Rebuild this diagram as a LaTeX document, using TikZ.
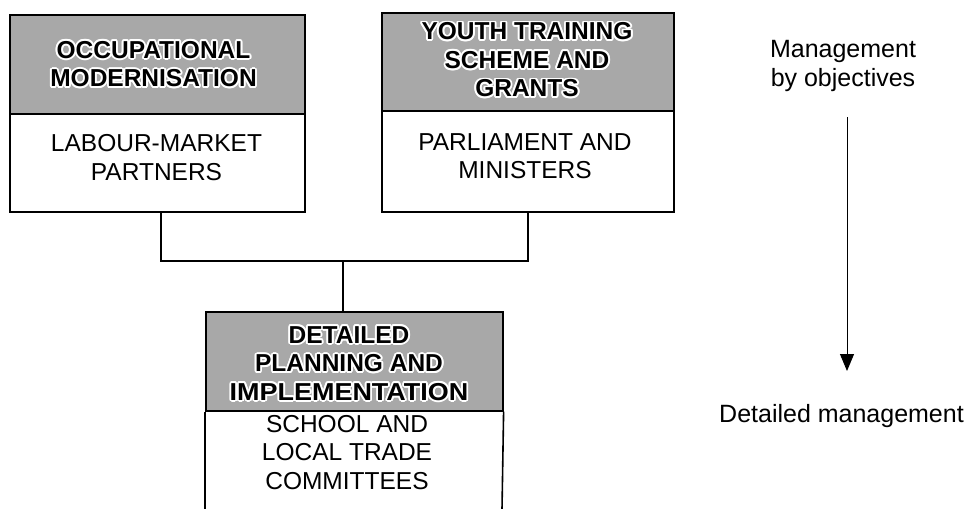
\documentclass[tikz,border=0pt]{standalone}
\usepackage{fontspec}
\setmainfont{Liberation Sans}
\usetikzlibrary{arrows.meta,calc}
\definecolor{shade}{RGB}{168,168,168}
\newcommand\halotext[3]{%
  \foreach \a in {0,30,...,330} {\node[headtxt,text=white] at ($(#2)+(\a:1.9)$) {#3};}
  \node[headtxt] (#1) at (#2) {#3};}
\begin{document}
\begin{tikzpicture}[x=1pt,y=-1pt,
  headbox/.style={draw=black, line width=1.6pt, fill=shade, rectangle, inner sep=0pt, anchor=north west},
  bodybox/.style={draw=black, line width=1.6pt, fill=white, rectangle, inner sep=0pt, anchor=north west},
  boxline/.style={draw=black, line width=1.6pt},
  headtxt/.style={align=center, inner sep=0pt, font=\fontsize{24.5}{28.5}\selectfont\bfseries},
  bodytxt/.style={align=center, inner sep=0pt, font=\fontsize{24.5}{28.5}\selectfont},
  sidetxt/.style={align=center, inner sep=0pt, font=\fontsize{25}{29}\selectfont},
  link/.style={draw=black, line width=1.4pt},
  flow/.style={draw=black, line width=1pt, -{Triangle[width=14pt,length=17pt]}},
]
\useasboundingbox (0,0) rectangle (973,508);

% Box 1
\node[bodybox, minimum width=295pt, minimum height=98pt] (b1) at (9,113) {};
\node[headbox, minimum width=295pt, minimum height=99pt] (h1) at (9,14) {};
\halotext{t1}{153.5,64}{OCCUPATIONAL\\MODERNISATION}
\node[bodytxt] (u1) at (156.5,157.5) {LABOUR-MARKET\\PARTNERS};

% Box 2
\node[bodybox, minimum width=292pt, minimum height=101pt] (b2) at (381,110) {};
\node[headbox, minimum width=292pt, minimum height=98pt] (h2) at (381,12) {};
\halotext{t2}{527,60}{YOUTH TRAINING\\SCHEME AND\\GRANTS}
\node[bodytxt] (u2) at (525,156) {PARLIAMENT AND\\MINISTERS};

% Box 3
\node[headbox, minimum width=297pt, minimum height=99pt] (h3) at (205,311) {};
\draw[boxline] (h3.south west) -- (205,509);
\draw[boxline] (h3.south east) -- (502,509);
\halotext{t3}{349,363.5}{DETAILED\\PLANNING AND\\\scalebox{1.1}[1]{IMPLEMENTATION}}
\node[bodytxt] (u3) at (347,452.5) {SCHOOL AND\\LOCAL TRADE\\COMMITTEES};

% Connectors
\coordinate (j1) at (161,261);
\coordinate (j2) at (528,261);
\coordinate (jm) at (343,261);
\draw[link] (j1 |- b1.south) -- (j1) -- (j2) -- (j2 |- b2.south);
\draw[link] (jm) -- (jm |- h3.north);

% Right side
\node[sidetxt] (s1) at (843,66) {Management\\by objectives};
\node[sidetxt] (s2) at (841.5,416) {Detailed management};
\coordinate (a1) at (847,117);
\coordinate (a2) at (847,371);
\draw[flow] (a1) -- (a2);
\end{tikzpicture}
\end{document}
